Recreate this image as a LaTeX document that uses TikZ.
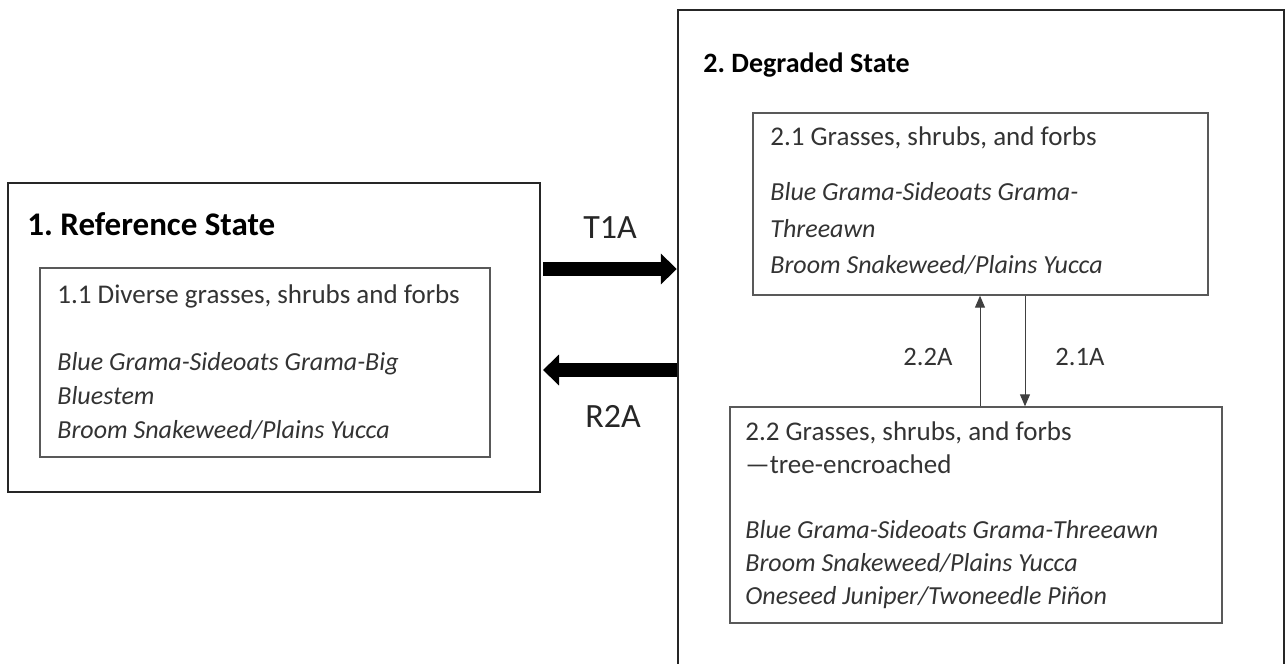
\documentclass[tikz,border=0pt]{standalone}
\usepackage{fontspec}
\setmainfont{Carlito}
\usetikzlibrary{positioning,fit,arrows.meta}
\frenchspacing

\begin{document}
\begin{tikzpicture}[x=0.5pt, y=-0.5pt,
        statebox/.style={draw=black!85, line width=1.2pt, inner sep=0pt},
        phasebox/.style={draw=black!65, line width=0.7pt, inner sep=0pt},
        title/.style={anchor=base west, inner sep=0pt, font=\fontsize{14}{17}\selectfont\bfseries},
        phasetext/.style={anchor=base west, inner sep=0pt, text=black!80,
            font=\fontsize{13.5}{17}\selectfont},
        species/.style={phasetext, font=\fontsize{13}{17}\selectfont\itshape},
        bigarrow/.style={line width=7pt, -{Triangle[length=8pt,width=15pt]}},
        smallarrow/.style={line width=0.5pt, draw=black!75, -{Triangle[length=6pt,width=5pt]}},
        lbl/.style={font=\fontsize{17}{20}\selectfont, text=black!85},
        smalllbl/.style={font=\fontsize{13.3}{16}\selectfont, text=black!80}]
        \useasboundingbox (0,0) rectangle (1286,664);

        % Reference state
        \node [statebox, fit={(8,183) (540,492)}] (ref) {};
        \node [title, font=\fontsize{16.5}{19}\selectfont\bfseries] (reftitle) at (27,235) {1. Reference State};
        \node [phasebox, fit={(40,268) (490,457)}] (p11) {};
        \node [phasetext] (p11head) at (57,303) {1.1 Diverse grasses, shrubs and forbs};
        \node [species] (p11a) at (57,370) {Blue Grama-Sideoats Grama-Big};
        \node [species] (p11b) at (57,404) {Bluestem};
        \node [species] (p11c) at (57,438) {Broom Snakeweed/Plains Yucca};

        % Degraded state
        \node [statebox, fit={(678,10) (1284,672)}] (deg) {};
        \node [title] (degtitle) at (703,72) {2. Degraded State};
        \node [phasebox, fit={(753,113) (1208,295)}] (p21) {};
        \node [phasetext] (p21head) at (770,145) {2.1 Grasses, shrubs, and forbs};
        \node [species] (p21a) at (770,200) {Blue Grama-Sideoats Grama-};
        \node [species] (p21b) at (770,237) {Threeawn};
        \node [species] (p21c) at (770,273) {Broom Snakeweed/Plains Yucca};
        \node [phasebox, fit={(730,407) (1222,623)}] (p22) {};
        \node [phasetext] (p22head) at (745,440) {2.2 Grasses, shrubs, and forbs};
        \node [phasetext] (p22headb) at (745,473) {---tree-encroached};
        \node [species] (p22a) at (745,538) {Blue Grama-Sideoats Grama-Threeawn};
        \node [species] (p22b) at (745,571) {Broom Snakeweed/Plains Yucca};
        \node [species] (p22c) at (745,604) {Oneseed Juniper/Twoneedle Piñon};

        % Transitions between states
        \coordinate (t1a) at (543,269);
        \coordinate (r2a) at (543,370);
        \draw [bigarrow] (t1a) -- (t1a -| deg.west);
        \draw [bigarrow] (r2a -| deg.west) -- (r2a);
        \node [lbl] (t1alabel) at (610,228) {T1A};
        \node [lbl] (r2alabel) at (613,416) {R2A};

        % Community pathways
        \coordinate (upx) at (980,0);
        \coordinate (downx) at (1025,0);
        \draw [smallarrow] (p22.north -| upx) -- (p21.south -| upx);
        \draw [smallarrow] (p21.south -| downx) -- (p22.north -| downx);
        \node [smalllbl] (p22alabel) at (928,357) {2.2A};
        \node [smalllbl] (p21alabel) at (1080,357) {2.1A};
\end{tikzpicture}
\end{document}
